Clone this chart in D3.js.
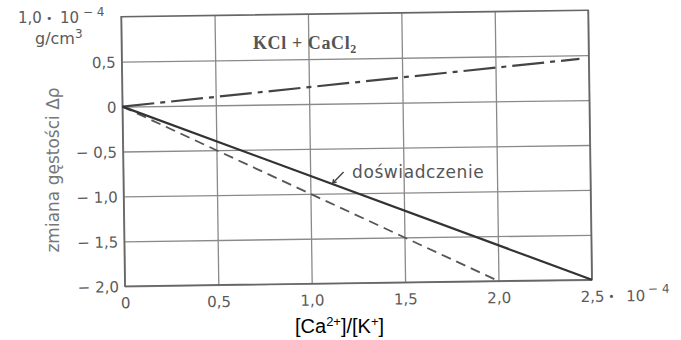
<!DOCTYPE html>
<html><head><meta charset="utf-8">
<script src="https://cdn.jsdelivr.net/npm/d3@7"></script>
<style>
html,body{margin:0;padding:0;background:#fff;}
svg{display:block;}
</style></head>
<body>
<svg id="chart" width="681" height="340"></svg>
<script>
// ---- data ----
const xTicks = [0, 0.5, 1.0, 1.5, 2.0, 2.5];
const xTickLabels = ["0", "0,5", "1,0", "1,5", "2,0", "2,5"];
const yTicks = [0.5, 0, -0.5, -1.0, -1.5, -2.0];
const yTickLabels = ["0,5", "0", "\u2212 0,5", "\u2212 1,0", "\u2212 1,5", "\u2212 2,0"];
const yTopLabel = "1,0";
const expX = [0, 2.5];        // doświadczenie (solid)
const expY = [0, -2.0];
const dashX = [0, 2.0];       // dashed
const dashY = [0, -2.0];
const dashDotX = [0, 2.45];   // dash-dot
const dashDotY = [0, 0.46];

// ---- layout ----
const svg = d3.select("#chart");
const x = d3.scaleLinear().domain([0, 2.5]).range([123, 590]);
const y = d3.scaleLinear().domain([-2, 1]).range([283, 13.5]);
const W = x(2.5) - x(0), H = y(-2) - y(1);
const cx = (x(0) + x(2.5)) / 2, cy = 148;

const g = svg.append("g").attr("transform", `rotate(-0.8,${cx},${cy})`);

// x axis + vertical grid
const xAxis = g.append("g").attr("transform", `translate(0,${y(-2)})`)
  .call(d3.axisBottom(x).tickValues(xTicks).tickSize(-H).tickPadding(8)
    .tickFormat((d, i) => xTickLabels[i]));
xAxis.select(".domain").remove();
xAxis.selectAll("line").attr("stroke", "#8a8a8a").attr("stroke-width", 1.3);
xAxis.selectAll("text").attr("font-family", "DejaVu Sans").attr("font-size", 15)
  .attr("fill", "#5a5a5a").attr("y", 22).attr("dy", 0);

// y axis + horizontal grid
const yAxis = g.append("g").attr("transform", `translate(${x(0)},0)`)
  .call(d3.axisLeft(y).tickValues(yTicks).tickSize(-W).tickPadding(6)
    .tickFormat((d, i) => yTickLabels[i]));
yAxis.select(".domain").remove();
yAxis.selectAll("line").attr("stroke", "#8a8a8a").attr("stroke-width", 1.3);
yAxis.selectAll("text").attr("font-family", "DejaVu Sans").attr("font-size", 15)
  .attr("fill", "#5a5a5a").attr("dy", "0.36em");

// frame
g.append("rect").attr("x", x(0)).attr("y", y(1)).attr("width", W).attr("height", H)
  .attr("fill", "none").attr("stroke", "#666").attr("stroke-width", 1.6);

// exponent next to 2,5
const ex = g.append("text").attr("font-family", "DejaVu Sans").attr("fill", "#5a5a5a")
  .attr("y", y(-2) + 22).attr("font-size", 15);
ex.append("tspan").attr("x", x(2.5) + 16).attr("dy", -1).attr("font-size", 11).text("\u2022");
ex.append("tspan").attr("x", x(2.5) + 34).attr("dy", 1).text("10");
ex.append("tspan").attr("x", x(2.5) + 56).attr("dy", -8).attr("font-size", 12).text("\u2212 4");

// lines
const line = d3.line().x(d => x(d[0])).y(d => y(d[1]));
g.append("path").datum(dashDotX.map((v, i) => [v, dashDotY[i]])).attr("d", line)
  .attr("fill", "none").attr("stroke", "#444").attr("stroke-width", 2.2)
  .attr("stroke-dasharray", "32,6,5,6");
g.append("path").datum(dashX.map((v, i) => [v, dashY[i]])).attr("d", line)
  .attr("fill", "none").attr("stroke", "#555").attr("stroke-width", 1.8)
  .attr("stroke-dasharray", "10,6");
g.append("path").datum(expX.map((v, i) => [v, expY[i]])).attr("d", line)
  .attr("fill", "none").attr("stroke", "#333").attr("stroke-width", 2.2);

// annotation arrow
const ax = 1.12, ay = expY[1] * ax / expX[1];
const tipX = x(ax), tipY = y(ay) - 1;
g.append("path")
  .attr("d", `M${tipX + 11},${tipY - 11}L${tipX},${tipY}M${tipX},${tipY}l1,-4M${tipX},${tipY}l4,-1`)
  .attr("fill", "none").attr("stroke", "#444").attr("stroke-width", 1.4);

// top-left unit label
const tl = svg.append("text").attr("font-family", "DejaVu Sans").attr("fill", "#5a5a5a")
  .attr("y", 23).attr("font-size", 15);
tl.append("tspan").attr("x", 18).text(yTopLabel);
tl.append("tspan").attr("x", 46).attr("dy", -1).attr("font-size", 11).text("\u2022");
tl.append("tspan").attr("x", 60).attr("dy", 1).text("10");
tl.append("tspan").attr("x", 83).attr("dy", -7).attr("font-size", 12).text("\u2212 4");
const gu = svg.append("text").attr("font-family", "DejaVu Sans").attr("fill", "#5a5a5a")
  .attr("x", 35).attr("y", 44).attr("font-size", 16);
gu.append("tspan").text("g/cm");
gu.append("tspan").attr("dy", -6).attr("font-size", 12).text("3");

// y title
svg.append("text").attr("transform", "translate(59,170) rotate(-90)")
  .attr("text-anchor", "middle").attr("font-family", "DejaVu Sans").attr("font-size", 17)
  .attr("fill", "#777").text("zmiana gęstości Δρ");

// series labels
const kc = svg.append("text").attr("x", 253).attr("y", 49)
  .attr("font-family", "Liberation Serif").attr("font-weight", "bold").attr("font-size", 18)
  .attr("letter-spacing", 0.6).attr("fill", "#555");
kc.append("tspan").text("KCl + CaCl");
kc.append("tspan").attr("dy", 4).attr("font-size", 12).text("2");

svg.append("text").attr("x", 352).attr("y", 178).attr("font-family", "DejaVu Sans")
  .attr("font-size", 17).attr("letter-spacing", 0.6).attr("fill", "#555").text("doświadczenie");

// x title
const xt = svg.append("text").attr("x", 295).attr("y", 333)
  .attr("font-family", "Liberation Sans").attr("font-size", 20).attr("fill", "#000");
xt.append("tspan").text("[Ca");
xt.append("tspan").attr("dy", -7).attr("font-size", 13).text("2+");
xt.append("tspan").attr("dy", 7).text("]/[K");
xt.append("tspan").attr("dy", -7).attr("font-size", 13).text("+");
xt.append("tspan").attr("dy", 7).text("]");
</script>
</body></html>
